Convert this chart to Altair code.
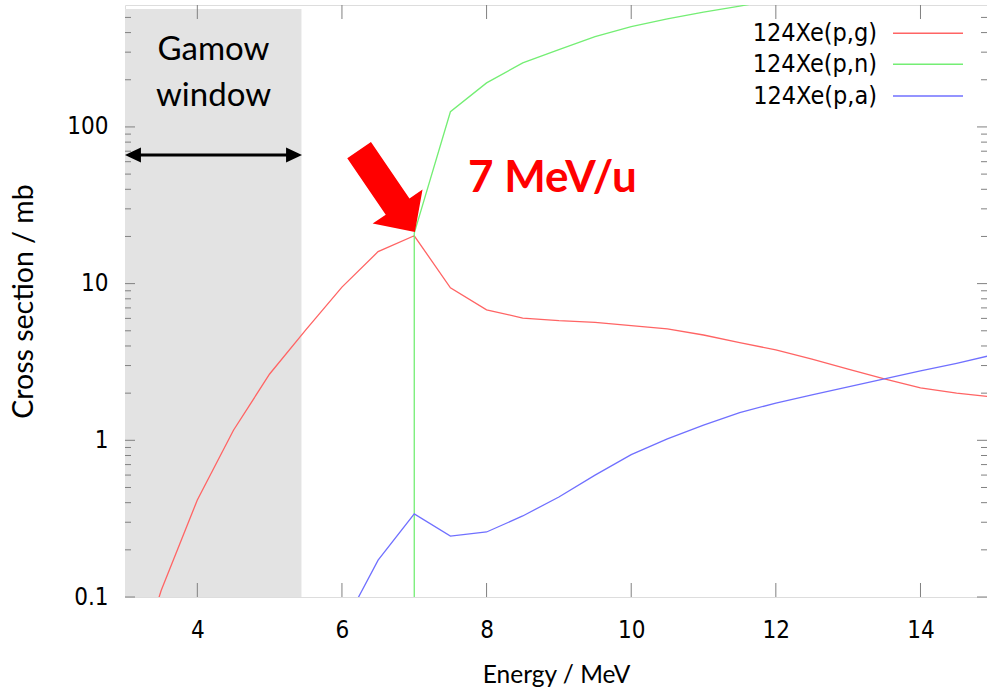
import altair as alt
import pandas as pd

# ---------------- data ----------------
series_names = ["124Xe(p,g)", "124Xe(p,n)", "124Xe(p,a)"]
series_colors = ["#ff6464", "#74ee74", "#7070ff"]

energy_pg = [3.0, 3.5, 4.0, 4.5, 5.0, 5.5, 6.0, 6.5, 7.0, 7.5, 8.0, 8.5, 9.0,
             9.5, 10.0, 10.5, 11.0, 11.5, 12.0, 12.5, 13.0, 13.5, 14.0, 14.5, 15.0]
xs_pg = [0.02, 0.11, 0.416, 1.16, 2.65, 5.07, 9.5, 16.0, 20.2, 9.4, 6.8, 6.03, 5.8,
         5.65, 5.39, 5.15, 4.7, 4.2, 3.78, 3.3, 2.85, 2.47, 2.16, 2.0, 1.89]

energy_pn = [7.0, 7.0, 7.5, 8.0, 8.5, 9.0, 9.5, 10.0, 10.5, 11.0, 11.5, 12.0,
             12.5, 13.0, 13.5, 14.0, 14.5, 15.0]
xs_pn = [0.01, 21.0, 125, 191, 256, 311, 377, 437, 489, 541, 590, 650,
         705, 755, 800, 845, 890, 930]

energy_pa = [6.0, 6.5, 7.0, 7.5, 8.0, 8.5, 9.0, 9.5, 10.0, 10.5, 11.0, 11.5,
             12.0, 12.5, 13.0, 13.5, 14.0, 14.5, 15.0]
xs_pa = [0.063, 0.172, 0.339, 0.245, 0.26, 0.329, 0.435, 0.60, 0.81, 1.02, 1.25, 1.5,
         1.73, 1.95, 2.19, 2.47, 2.77, 3.1, 3.51]

x_ticks = [4, 6, 8, 10, 12, 14]
y_labels = [0.1, 1, 10, 100]
y_minor = [0.2, 0.3, 0.4, 0.5, 0.6, 0.7, 0.8, 0.9,
           2, 3, 4, 5, 6, 7, 8, 9,
           20, 30, 40, 50, 60, 70, 80, 90,
           200, 300, 400, 500]
gamow_window = [3.0, 5.44]

# ---------------- tables ----------------
rows = []
for name, es, vs in zip(series_names, [energy_pg, energy_pn, energy_pa], [xs_pg, xs_pn, xs_pa]):
    for i, (e, v) in enumerate(zip(es, vs)):
        rows.append({"series": name, "energy": e, "xs": v, "order": i})
df = pd.DataFrame(rows)

W, H = 862, 592
GRAY = "#808080"
TICK_FONT = "DejaVu Sans Condensed, Liberation Sans, DejaVu Sans"
TEXT_FONT = "Lato"

xscale = alt.Scale(domain=[3, 14.92], nice=False, zero=False)
yscale = alt.Scale(type="log", domain=[0.1, 600], nice=False)

xaxis = alt.Axis(values=x_ticks, title="Energy / MeV", orient="bottom", grid=False, ticks=False,
                 domain=False, labelFont=TICK_FONT, labelFontSize=24,
                 labelColor="black", labelPadding=21, titleFont=TEXT_FONT,
                 titleFontSize=24.5, titleFontWeight="normal", titleColor="black",
                 titlePadding=21)
yaxis = alt.Axis(values=y_labels, format="~g", title="Cross section / mb", orient="left",
                 grid=False, ticks=False, domain=False, labelFont=TICK_FONT,
                 labelFontSize=24, labelColor="black", labelPadding=17,
                 titleFont=TEXT_FONT, titleFontSize=28.5, titleFontWeight="normal",
                 titleColor="black", titlePadding=28)

one = alt.Data(values=[{"k": 0}])

# Gamow window shading
gamow = alt.Chart(pd.DataFrame({"lo": [gamow_window[0]], "hi": [gamow_window[1]]})).mark_rect(
    color="#e3e3e3"
).encode(
    x=alt.X("lo:Q", scale=xscale, axis=xaxis),
    x2="hi:Q",
    y=alt.value(4),
    y2=alt.value(H),
)

lines = alt.Chart(df).mark_line(clip=True, strokeWidth=1.3).encode(
    x=alt.X("energy:Q", scale=xscale, axis=xaxis),
    y=alt.Y("xs:Q", scale=yscale, axis=yaxis),
    color=alt.Color("series:N", scale=alt.Scale(domain=series_names, range=series_colors),
                    legend=None),
    order="order:Q",
)

# inward ticks (gnuplot style)
xt = pd.DataFrame({"t": x_ticks})
ticks_bottom = alt.Chart(xt).mark_rule(color=GRAY, strokeWidth=1).encode(
    x=alt.X("t:Q", scale=xscale, axis=xaxis), y=alt.value(H), y2=alt.value(H - 14))
ticks_top = alt.Chart(xt).mark_rule(color=GRAY, strokeWidth=1).encode(
    x=alt.X("t:Q", scale=xscale, axis=xaxis), y=alt.value(0), y2=alt.value(14))

ym = pd.DataFrame({"t": y_labels})
yn = pd.DataFrame({"t": y_minor})
ticks_left_major = alt.Chart(ym).mark_rule(color=GRAY, strokeWidth=1).encode(
    y=alt.Y("t:Q", scale=yscale, axis=yaxis), x=alt.value(0), x2=alt.value(10))
ticks_left_minor = alt.Chart(yn).mark_rule(color=GRAY, strokeWidth=1).encode(
    y=alt.Y("t:Q", scale=yscale, axis=yaxis), x=alt.value(0), x2=alt.value(6))
ticks_right_major = alt.Chart(ym).mark_rule(color=GRAY, strokeWidth=1).encode(
    y=alt.Y("t:Q", scale=yscale, axis=yaxis), x=alt.value(W), x2=alt.value(W - 10))
ticks_right_minor = alt.Chart(yn).mark_rule(color=GRAY, strokeWidth=1).encode(
    y=alt.Y("t:Q", scale=yscale, axis=yaxis), x=alt.value(W), x2=alt.value(W - 6))

# annotations
gamow_text = alt.Chart(one).mark_text(
    text=["Gamow", "window"], font=TEXT_FONT, fontSize=33, lineHeight=46,
    align="center", baseline="alphabetic", color="black"
).encode(x=alt.value(88.5), y=alt.value(55))

dbl_arrow_path = ("M -1 0 L -0.82 -0.085 L -0.82 -0.018 L 0.82 -0.018 L 0.82 -0.085 "
                  "L 1 0 L 0.82 0.085 L 0.82 0.018 L -0.82 0.018 L -0.82 0.085 Z")
gamow_arrow = alt.Chart(one).mark_point(
    shape=dbl_arrow_path, filled=True, color="black", opacity=1, size=177 * 177, strokeWidth=0
).encode(x=alt.value(88.5), y=alt.value(150))

red_arrow_path = ("M -1 -0.29 L 0.38 -0.29 L 0.38 -0.61 L 1 0 L 0.38 0.61 "
                  "L 0.38 0.29 L -1 0.29 Z")
red_arrow = alt.Chart(one).mark_point(
    shape=red_arrow_path, filled=True, color="#ff0000", opacity=1, size=99 * 99,
    angle=55.7, strokeWidth=0
).encode(x=alt.value(262), y=alt.value(186))

mev_text = alt.Chart(one).mark_text(
    text="7 MeV/u", font=TEXT_FONT, fontSize=44, fontWeight="bold", color="#ff0000",
    align="left", baseline="alphabetic"
).encode(x=alt.value(343), y=alt.value(187))

# legend (text left of the line sample, like gnuplot)
legend_rows = [28.3, 59.3, 91.0]
legend_layers = []
for name, col, yy in zip(series_names, series_colors, legend_rows):
    legend_layers.append(alt.Chart(one).mark_text(
        text=name, font=TICK_FONT, fontSize=25, align="right", baseline="middle", color="black"
    ).encode(x=alt.value(752), y=alt.value(yy)))
    legend_layers.append(alt.Chart(one).mark_rule(color=col, strokeWidth=1.6).encode(
        x=alt.value(768), x2=alt.value(838), y=alt.value(yy)))

chart = alt.layer(
    gamow, ticks_bottom, ticks_top, ticks_left_major, ticks_left_minor,
    ticks_right_major, ticks_right_minor, lines,
    gamow_text, gamow_arrow, red_arrow, mev_text, *legend_layers
).properties(
    width=W, height=H,
    autosize=alt.AutoSizeParams(type="none"),
    padding={"left": 125, "top": 5, "right": 0, "bottom": 96},
).configure_view(stroke=GRAY, strokeWidth=1).configure(background="white")

chart.save("out.html", embed_options={"renderer": "svg", "actions": False})
